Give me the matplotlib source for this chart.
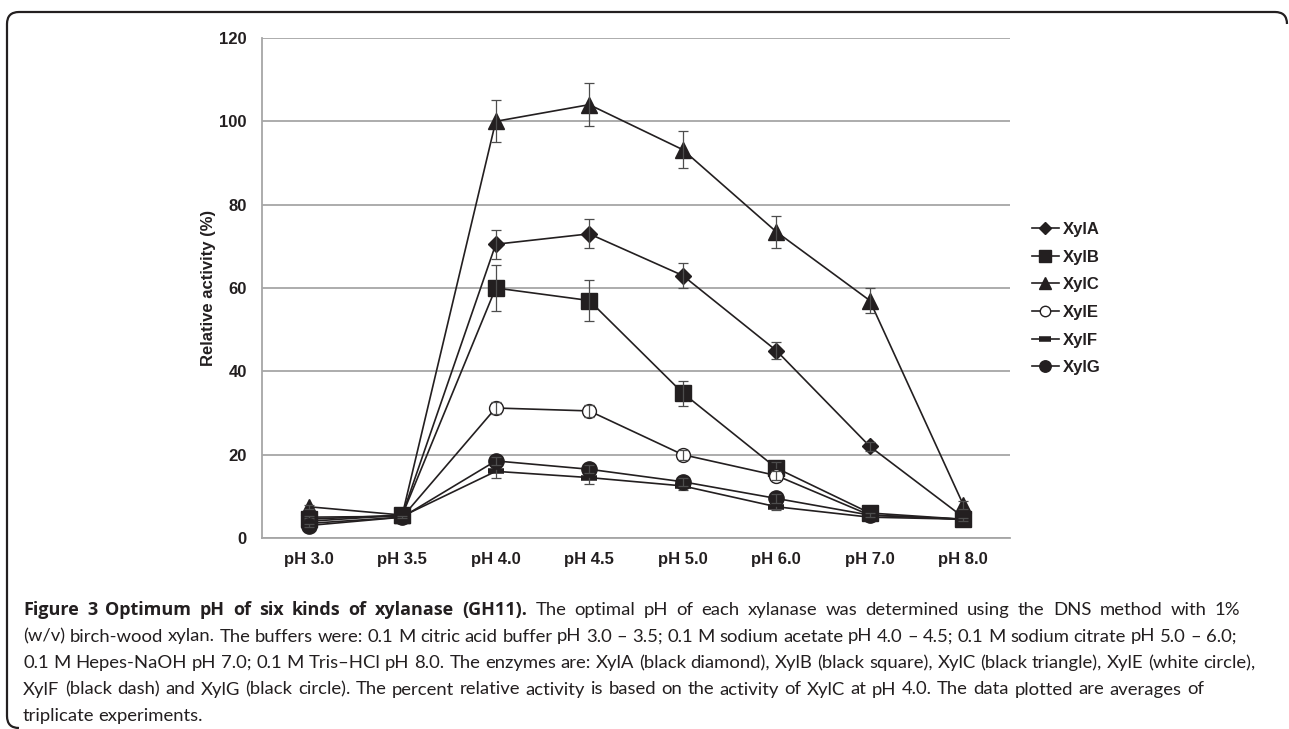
import numpy as np
import matplotlib
matplotlib.use('Agg')
import matplotlib.pyplot as plt
from matplotlib.path import Path
from matplotlib.patches import PathPatch

ph_labels = ['pH 3.0', 'pH 3.5', 'pH 4.0', 'pH 4.5', 'pH 5.0', 'pH 6.0', 'pH 7.0', 'pH 8.0']

xylA = [4.0, 5.5, 70.5, 73.0, 63.0, 45.0, 22.0, 5.0]
xylB = [4.5, 5.5, 60.0, 57.0, 34.8, 16.8, 6.0, 4.5]
xylC = [7.5, 5.5, 100.0, 104.0, 93.2, 73.5, 57.0, 8.0]
xylE = [3.5, 5.0, 31.2, 30.5, 20.0, 15.0, 5.5, 4.5]
xylF = [5.0, 5.2, 16.0, 14.5, 12.5, 7.5, 5.0, 4.5]
xylG = [3.0, 5.0, 18.5, 16.5, 13.5, 9.5, 5.5, 4.5]

errA = [0.5, 0.5, 3.5, 3.5, 3.0, 2.0, 1.0, 0.5]
errB = [0.5, 0.5, 5.4, 5.0, 3.0, 1.5, 0.5, 0.5]
errC = [0.5, 0.5, 5.0, 5.2, 4.5, 3.8, 3.0, 1.0]
errE = [0.3, 0.3, 1.5, 1.5, 1.2, 1.0, 0.5, 0.3]
errF = [0.3, 0.3, 1.5, 1.5, 1.0, 0.8, 0.5, 0.3]
errG = [0.3, 0.3, 1.0, 1.0, 1.0, 1.0, 0.5, 0.3]

caption_bold = 'Figure 3 Optimum pH of six kinds of xylanase (GH11).'
caption_lines = [
    'The optimal pH of each xylanase was determined using the DNS method with 1%',
    '(w/v) birch-wood xylan. The buffers were: 0.1 M citric acid buffer pH 3.0 \u2013 3.5; 0.1 M sodium acetate pH 4.0 \u2013 4.5; 0.1 M sodium citrate pH 5.0 \u2013 6.0;',
    '0.1 M Hepes-NaOH pH 7.0; 0.1 M Tris\u2013HCl pH 8.0. The enzymes are: XylA (black diamond), XylB (black square), XylC (black triangle), XylE (white circle),',
    'XylF (black dash) and XylG (black circle). The percent relative activity is based on the activity of XylC at pH 4.0. The data plotted are averages of',
    'triplicate experiments.',
]
# right edge (px) of each justified caption line, None = ragged
caption_ends = [1240, 1236, 1256, 1204, None]

W, H = 1289, 729
fig = plt.figure(figsize=(W / 100, H / 100), dpi=100)
plt.rcParams['font.family'] = ['Liberation Sans', 'DejaVu Sans']

ax = fig.add_axes([262 / W, 1 - 538 / H, (1010 - 262) / W, (538 - 38) / H])
x = np.arange(len(ph_labels))

series = [
    ('XylA', xylA, errA, dict(marker='D', markersize=8, mfc='#231f20', mec='#231f20')),
    ('XylB', xylB, errB, dict(marker='s', markersize=11, mfc='#231f20', mec='#231f20')),
    ('XylC', xylC, errC, dict(marker='^', markersize=11, mfc='#231f20', mec='#231f20')),
    ('XylE', xylE, errE, dict(marker='o', markersize=10, mfc='white', mec='#231f20', mew=1.0)),
    ('XylF', xylF, errF, dict(marker='_', markersize=11, mec='#231f20', mew=4)),
    ('XylG', xylG, errG, dict(marker='o', markersize=11, mfc='#231f20', mec='#231f20')),
]

for i, (name, vals, err, style) in enumerate(series):
    ax.plot(x, vals, color='#231f20', lw=1.2, label=name, zorder=3 + i, **style)
    ax.errorbar(x, vals, yerr=err, fmt='none', ecolor='#4d4d4d', elinewidth=0.9,
                capsize=3.5, capthick=0.9, zorder=3.5 + i)

ax.set_xlim(-0.5, len(ph_labels) - 0.5)
ax.set_ylim(0, 120)
ax.set_yticks(np.arange(0, 121, 20))
ax.set_xticks(x)
ax.set_xticklabels(ph_labels)
ax.yaxis.grid(True, color='#a6a6a6', lw=1.3)
ax.set_axisbelow(True)
for s in ['top', 'right']:
    ax.spines[s].set_visible(False)
for s in ['left', 'bottom']:
    ax.spines[s].set_color('#a6a6a6')
    ax.spines[s].set_linewidth(1.3)
ax.tick_params(axis='x', length=0, pad=10, labelsize=12)
ax.tick_params(axis='y', length=0, pad=11, labelsize=12)
for lab in ax.get_xticklabels() + ax.get_yticklabels():
    lab.set_fontweight('bold')
    lab.set_color('#231f20')

fig.text(208 / W, 1 - 288 / H, 'Relative activity (%)', rotation=90, ha='center',
         va='center', fontsize=12, fontweight='bold', color='#231f20')

leg = ax.legend(loc='center left', bbox_to_anchor=(1032 / W, 1 - 298.5 / H),
                bbox_transform=fig.transFigure, frameon=False, borderpad=0,
                borderaxespad=0, handlelength=1.6, handletextpad=0.25,
                labelspacing=0.76, markerscale=0.75,
                prop={'weight': 'bold', 'size': 12})
for t in leg.get_texts():
    t.set_color('#231f20')

# rounded frame around the figure
pts = [(1287, 24), (1287, 12), (1275, 12), (19, 12), (7, 12), (7, 24), (7, 716), (7, 728), (19, 728)]
codes = [Path.MOVETO, Path.CURVE3, Path.CURVE3, Path.LINETO, Path.CURVE3, Path.CURVE3,
         Path.LINETO, Path.CURVE3, Path.CURVE3]
verts = [(px / W, 1 - py / H) for px, py in pts]
fig.patches.append(PathPatch(Path(verts, codes), transform=fig.transFigure,
                             fill=False, lw=1.6, edgecolor='#231f20'))

# caption, justified word by word
cap_font = ['Lato', 'DejaVu Sans']
bold_font = ['Open Sans', 'DejaVu Sans']
cap_size = 13.3
x_left = 23
y0 = 610
pitch = 26.5
fig.canvas.draw()
r = fig.canvas.get_renderer()


def caption_line(words, y, x_end):
    texts = []
    for w, bold in words:
        kw = dict(fontsize=cap_size - 0.35, fontweight='bold', family=bold_font) if bold \
            else dict(fontsize=cap_size, family=cap_font)
        texts.append(fig.text(0, 1 - y / H, w, va='center', color='#231f20', **kw))
    widths = [t.get_window_extent(renderer=r).width for t in texts]
    if x_end is None or len(texts) < 2:
        space = cap_size * 100 / 72 * 0.22
    else:
        space = (x_end - x_left - sum(widths)) / (len(texts) - 1)
    xp = x_left
    for t, wd in zip(texts, widths):
        t.set_x(xp / W)
        xp += wd + space


for k, line in enumerate(caption_lines):
    words = [(w, False) for w in line.split(' ')]
    if k == 0:
        words = [(w, True) for w in caption_bold.split(' ')] + words
    caption_line(words, y0 + k * pitch, caption_ends[k])

fig.savefig('out.png', dpi=100)
